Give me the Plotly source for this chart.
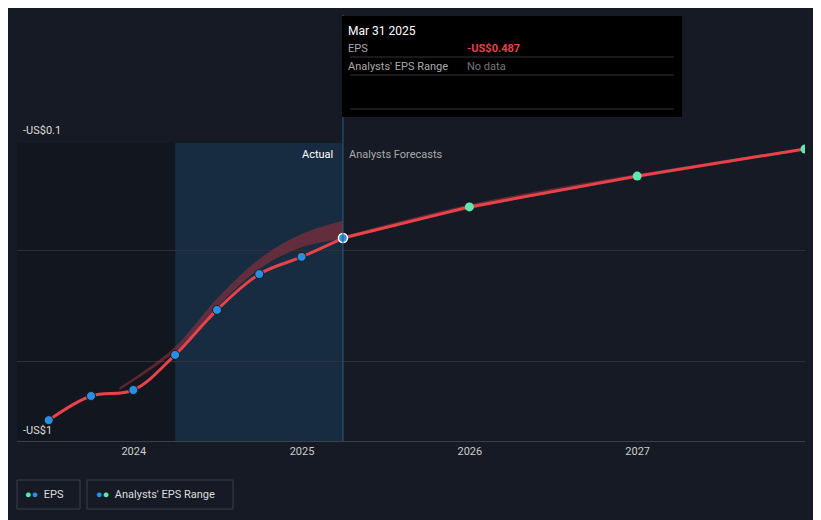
import plotly.graph_objects as go

dates = ["2023-06-30","2023-09-30","2023-12-31","2024-03-31","2024-06-30","2024-09-30","2024-12-31","2025-03-31","2025-12-31","2026-12-31","2027-12-31"]
eps = [-0.937,-0.864,-0.846,-0.740,-0.604,-0.496,-0.444,-0.387,-0.293,-0.200,-0.118]
past_band_dates = ["2023-12-01","2024-03-31","2024-06-30","2024-09-30","2024-12-31","2025-03-31"]
past_band_hi = [-0.838,-0.715,-0.570,-0.450,-0.375,-0.335]
past_band_lo = [-0.846,-0.730,-0.595,-0.480,-0.415,-0.390]
fc_band_dates = ["2025-03-31","2025-12-31","2026-12-31","2027-12-31"]
fc_band_hi = [-0.382,-0.286,-0.194,-0.114]
fc_band_lo = [-0.392,-0.300,-0.206,-0.122]

bg = "#151a24"
fig = go.Figure()
for bd, lo, hi in [(past_band_dates, past_band_lo, past_band_hi), (fc_band_dates, fc_band_lo, fc_band_hi)]:
    fig.add_trace(go.Scatter(x=bd, y=lo, mode="lines", line=dict(width=0, shape="spline"), showlegend=False, hoverinfo="skip"))
    fig.add_trace(go.Scatter(x=bd, y=hi, mode="lines", line=dict(width=0, shape="spline"), fill="tonexty",
                             fillcolor="rgba(160,50,60,0.55)", showlegend=False, hoverinfo="skip"))
fig.add_trace(go.Scatter(x=dates[:8], y=eps[:8], mode="lines+markers", line=dict(color="#e8424a", width=3, shape="spline"),
                         marker=dict(size=9, color="#2a8fe0", line=dict(color=bg, width=1)), showlegend=False))
fig.add_trace(go.Scatter(x=dates[7:], y=eps[7:], mode="lines+markers", line=dict(color="#e8424a", width=3),
                         marker=dict(size=9, color=["#2a8fe0"]+["#5ee8b0"]*3, line=dict(color="#ffffff", width=[1.5,0,0,0])), showlegend=False))

shapes = [
    dict(type="rect", xref="x", yref="paper", x0="2023-04-22", x1="2024-03-31", y0=0, y1=1, fillcolor="#12161e", line_width=0, layer="below"),
    dict(type="rect", xref="x", yref="paper", x0="2024-03-31", x1="2025-03-31", y0=0, y1=1, fillcolor="rgba(30,80,120,0.35)", line_width=0, layer="below"),
    dict(type="line", xref="x", yref="paper", x0="2025-03-31", x1="2025-03-31", y0=0, y1=1.43, line=dict(color="#2d5d80", width=1)),
    dict(type="rect", xref="paper", yref="paper", x0=(342-17)/788, x1=(682-17)/788, y0=(441-117)/298, y1=(441-16)/298, fillcolor="#000000", line_width=0),
    dict(type="line", xref="paper", yref="paper", x0=(350-17)/788, x1=(674-17)/788, y0=(441-57)/298, y1=(441-57)/298, line=dict(color="#333", width=1)),
    dict(type="line", xref="paper", yref="paper", x0=(350-17)/788, x1=(674-17)/788, y0=(441-75)/298, y1=(441-75)/298, line=dict(color="#333", width=1)),
    dict(type="line", xref="paper", yref="paper", x0=(350-17)/788, x1=(674-17)/788, y0=(441-109)/298, y1=(441-109)/298, line=dict(color="#333", width=1)),
]
def px(x, y, text, color="#ccc", size=11, anchor="left"):
    return dict(xref="paper", yref="paper", x=(x-17)/788, y=(441-y)/298, text=text, showarrow=False,
                xanchor=anchor, yanchor="middle", font=dict(color=color, size=size))
ann = [
    px(346, 31, "Mar 31 2025", "#ffffff", 12),
    px(346, 48, "EPS", "#aaa"), px(465, 48, "<b>-US$0.487</b>", "#e8424a"),
    px(346, 66, "Analysts' EPS Range", "#aaa"), px(465, 66, "No data", "#777"),
    px(335, 154, "Actual", "#ffffff", 11, "right"), px(347, 154, "Analysts Forecasts", "#aaa"),
    px(21, 130, "-US$0.1", "#ddd"), px(21, 430, "-US$1", "#ddd"),
    px(23, 494, "<span style='color:#5ee8b0'>●</span><span style='color:#2a8fe0'>●</span>  EPS   ", "#ddd"),
    px(94, 494, "<span style='color:#2a8fe0'>●</span><span style='color:#5ee8b0'>●</span>  Analysts' EPS Range", "#ddd"),
]
for x0, x1 in [(17, 80), (87, 233)]:
    shapes.append(dict(type="rect", xref="paper", yref="paper", x0=(x0-17)/788, x1=(x1-17)/788,
                       y0=(441-509)/298, y1=(441-480)/298, line=dict(color="#3a3f4a", width=1), fillcolor="rgba(0,0,0,0)"))

fig.update_layout(
    width=813, height=512, paper_bgcolor=bg, plot_bgcolor=bg,
    margin=dict(l=9, r=16, t=135, b=79), shapes=shapes, annotations=ann,
    font=dict(family="Roboto", color="#ccc", size=11), hovermode=False,
    xaxis=dict(range=["2023-04-22", "2027-12-31"], tickvals=["2024-01-01","2025-01-01","2026-01-01","2027-01-01"],
               ticktext=["2024","2025","2026","2027"], showgrid=False, zeroline=False, showline=True,
               linecolor="#3a3f4a", ticks="", tickfont=dict(color="#ccc")),
    yaxis=dict(range=[-1.0, -0.1], tickvals=[-0.1, -0.425, -0.76], showticklabels=False,
               gridcolor="#2c313b", zeroline=False),
)
fig.write_html("out.html")
